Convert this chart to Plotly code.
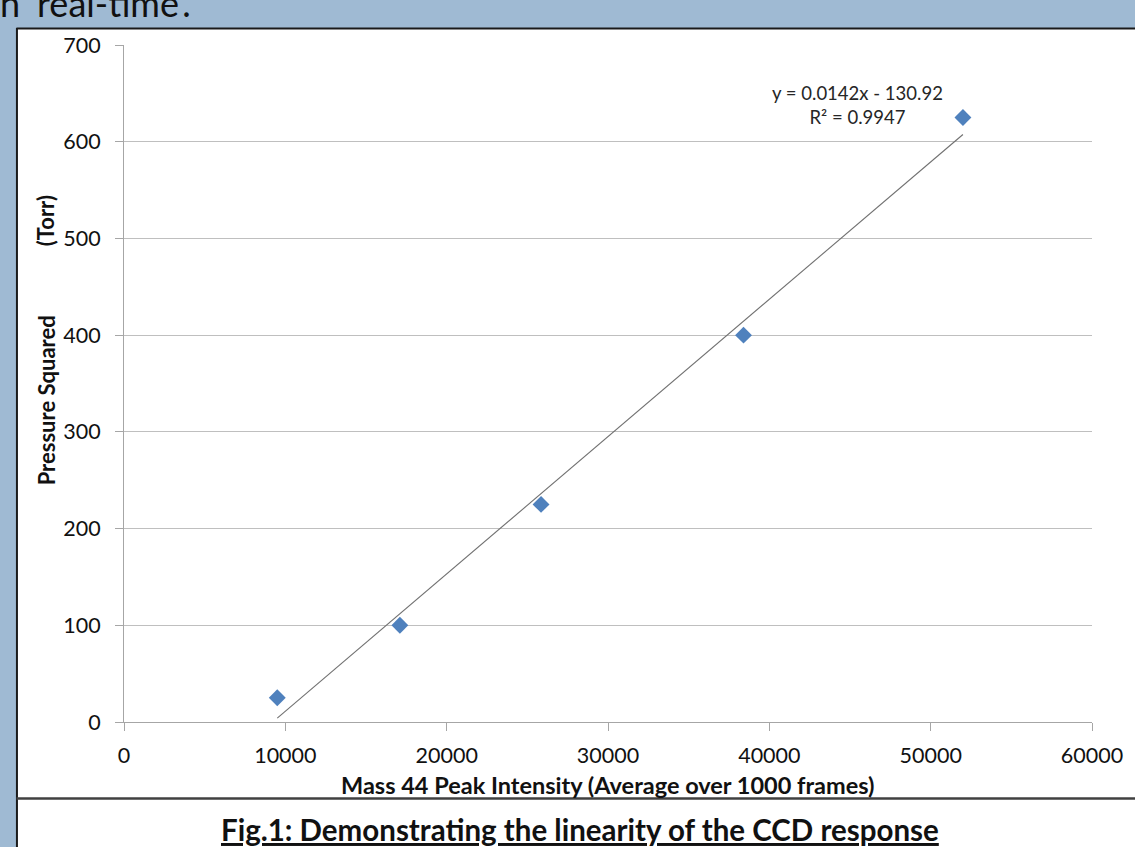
import plotly.graph_objects as go

# Data
intensity = [9500, 17100, 25850, 38400, 52000]
pressure_sq = [25, 100, 225, 400, 625]
slope = 0.0142
intercept = -130.92
x_ticks = [0, 10000, 20000, 30000, 40000, 50000, 60000]
y_ticks = [0, 100, 200, 300, 400, 500, 600, 700]

W, H = 1135, 847
L, R, T, B = 124, 1096, 45, 722

font_main = "Lato, 'Open Sans', sans-serif"

fig = go.Figure()

fig.add_trace(go.Scatter(
    x=intensity, y=pressure_sq, mode="markers",
    marker=dict(symbol="diamond", size=13, color="#4F81BD"),
    showlegend=False, hoverinfo="x+y"))

x0, x1 = min(intensity), max(intensity)
fig.add_trace(go.Scatter(
    x=[x0, x1], y=[slope * x0 + intercept, slope * x1 + intercept],
    mode="lines", line=dict(color="#707070", width=1.1),
    showlegend=False, hoverinfo="skip"))


def px(xp):
    return (xp - L) / (R - L)


def py(yp):
    return (B - yp) / (B - T)


shapes = [
    dict(type="rect", xref="paper", yref="paper", x0=px(17), x1=px(W + 5), y0=py(798), y1=py(29),
         fillcolor="white", line=dict(width=0), layer="below"),
    dict(type="rect", xref="paper", yref="paper", x0=px(17), x1=px(W + 5), y0=py(H + 5), y1=py(799),
         fillcolor="white", line=dict(width=0), layer="below"),
    dict(type="line", xref="paper", yref="paper", x0=px(16), x1=px(W + 5), y0=py(28.5), y1=py(28.5),
         line=dict(color="#1a1a1a", width=2), layer="above"),
    dict(type="line", xref="paper", yref="paper", x0=px(16.5), x1=px(16.5), y0=py(28), y1=py(H + 5),
         line=dict(color="#1a1a1a", width=2), layer="above"),
    dict(type="line", xref="paper", yref="paper", x0=px(16), x1=px(W + 5), y0=py(798.5), y1=py(798.5),
         line=dict(color="#404040", width=2.5), layer="above"),
]

annotations = [
    dict(text="n \u2018real-time\u2019.", xref="paper", yref="paper", x=px(-3), y=py(27),
         xanchor="left", yanchor="bottom", showarrow=False,
         font=dict(family=font_main, size=36, color="#111111")),
    dict(text="y = 0.0142x - 130.92<br>R\u00b2 = 0.9947", xref="paper", yref="paper",
         x=px(861), y=py(80), xanchor="center", yanchor="top", align="center", showarrow=False,
         font=dict(family=font_main, size=18.5, color="#262626")),
    dict(text="<b>Mass 44 Peak Intensity (Average over 1000 frames)</b>", xref="paper", yref="paper",
         x=px(610), y=py(785), xanchor="center", yanchor="middle", showarrow=False,
         font=dict(family=font_main, size=23.5, color="#111111")),
    dict(text="<b>Pressure Squared</b>", xref="paper", yref="paper",
         x=px(46), y=py(400), xanchor="center", yanchor="middle", textangle=-90, showarrow=False,
         font=dict(family=font_main, size=22, color="#111111")),
    dict(text="<b>(Torr)</b>", xref="paper", yref="paper",
         x=px(46), y=py(221), xanchor="center", yanchor="middle", textangle=-90, showarrow=False,
         font=dict(family=font_main, size=22, color="#111111")),
    dict(text="<b><u>Fig.1: Demonstrating the linearity of the CCD response</u></b>", xref="paper", yref="paper",
         x=px(582), y=py(829), xanchor="center", yanchor="middle", showarrow=False,
         font=dict(family=font_main, size=29.5, color="#111111")),
]

fig.update_layout(
    width=W, height=H,
    margin=dict(l=L, r=W - R, t=T, b=H - B, pad=0),
    paper_bgcolor="#9FBAD3",
    plot_bgcolor="white",
    shapes=shapes,
    annotations=annotations,
    xaxis=dict(range=[0, 60000], tickvals=x_ticks, ticktext=[str(v) for v in x_ticks],
               showgrid=False, zeroline=False, showline=True, linecolor="#A6A6A6", linewidth=1,
               ticks="outside", ticklen=8, tickcolor="#A6A6A6", ticklabelstandoff=6,
               tickfont=dict(family=font_main, size=21.5, color="#111111"), fixedrange=True),
    yaxis=dict(range=[0, 700], tickvals=y_ticks, ticktext=[str(v) for v in y_ticks],
               showgrid=True, gridcolor="#BFBFBF", gridwidth=1, zeroline=False,
               showline=True, linecolor="#A6A6A6", linewidth=1,
               ticks="outside", ticklen=8, tickcolor="#A6A6A6", ticklabelstandoff=10,
               tickfont=dict(family=font_main, size=21.5, color="#111111"), fixedrange=True),
)

fig.write_html("out.html", config={"displayModeBar": False},
               post_script="document.body.style.margin='0';")
